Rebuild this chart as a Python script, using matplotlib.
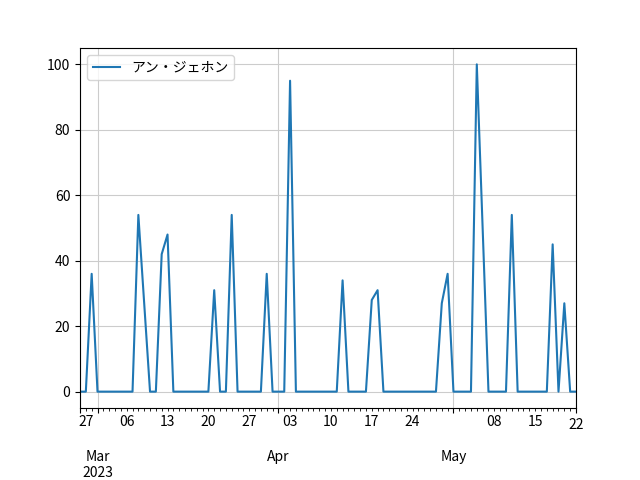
import numpy as np
import pandas as pd
import matplotlib
matplotlib.use("Agg")
import matplotlib.pyplot as plt

plt.rcParams['font.family'] = ['Noto Sans CJK JP', 'DejaVu Sans']

start = "2023-02-26"
end = "2023-05-22"
name = "アン・ジェホン"

# one value per day, Feb 26 .. May 22
values = [
    0, 0, 36, 0, 0, 0, 0, 0, 0, 0,        # Feb 26 - Mar 7
    54, 27, 0, 0, 42, 48, 0, 0, 0, 0,     # Mar 8 - Mar 17
    0, 0, 0, 31, 0, 0, 54, 0, 0, 0,       # Mar 18 - Mar 27
    0, 0, 36, 0, 0, 0, 95, 0, 0, 0,       # Mar 28 - Apr 6
    0, 0, 0, 0, 0, 34, 0, 0, 0, 0,        # Apr 7 - Apr 16
    28, 31, 0, 0, 0, 0, 0, 0, 0, 0,       # Apr 17 - Apr 26
    0, 0, 27, 36, 0, 0, 0, 0, 100, 50,    # Apr 27 - May 6
    0, 0, 0, 0, 54, 0, 0, 0, 0, 0,        # May 7 - May 16
    0, 45, 0, 27, 0, 0,                   # May 17 - May 22
]

dates = pd.date_range(start, end, freq="D")
s = pd.Series(values, index=dates, name=name)

fig, ax = plt.subplots(figsize=(6.4, 4.8), dpi=100)
s.plot(ax=ax, color="#1f77b4", legend=True)
ax.grid(True, color="#cccccc")
ax.legend(loc="upper left")
fig.subplots_adjust(left=0.125, right=0.9, bottom=0.15, top=0.9)

fig.savefig("out.png")
